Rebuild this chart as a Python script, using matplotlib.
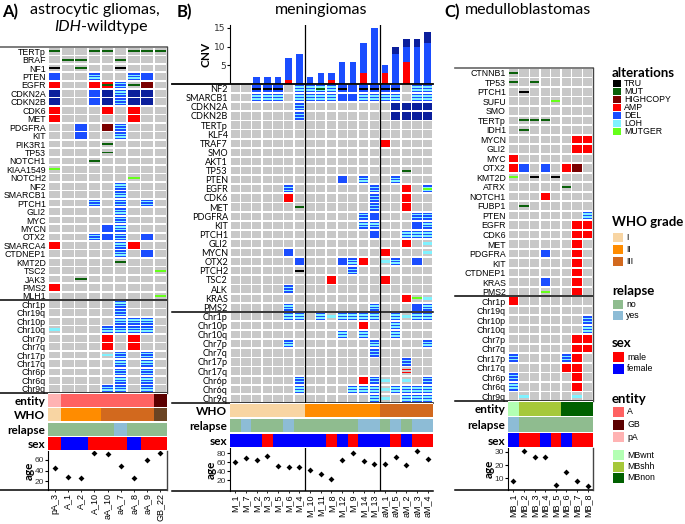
import numpy as np
import matplotlib.pyplot as plt
from matplotlib.patches import Rectangle

# ---------------- panel A: astrocytic gliomas ----------------
a_samples = ["pA_3", "A_1", "A_2", "A_10", "aA_10", "aA_7", "aA_8", "aA_9", "GB_22"]
a_genes = ["TERTp", "BRAF", "NF1", "PTEN", "EGFR", "CDKN2A", "CDKN2B", "CDK6", "MET",
           "PDGFRA", "KIT", "PIK3R1", "TP53", "NOTCH1", "KIAA1549", "NOTCH2", "NF2",
           "SMARCB1", "PTCH1", "GLI2", "MYC", "MYCN", "OTX2", "SMARCA4", "CTDNEP1",
           "KMT2D", "TSC2", "JAK3", "PMS2", "MLH1"]
a_gene_calls = [
    "M . . M M . M M M",
    ". M M . . M . . .",
    "T . M . . T . . .",
    "D . . S . . S D .",
    "A . . A AM S M H .",
    "N . . D N S N N .",
    "N . . D N S N N .",
    "A . . . A . A . .",
    "A . . . . . A . .",
    ". . D . H S . . .",
    ". . D . . S . . .",
    ". . . . M . . . .",
    ". . . . M . . . .",
    ". . . M . . . . .",
    "G . . . . . . . .",
    ". . . . . . G . .",
    ". . . . . S . . .",
    ". . . . . S . . .",
    ". . . S . S . S .",
    ". . . . . S . . .",
    ". . . . . S . . .",
    ". . . . D S . . .",
    ". . . S D S . D .",
    "A . . . . S A . .",
    ". . . . . S . D .",
    ". . . . . M . . .",
    ". . . . . . . . G",
    ". . M . . . . . .",
    "A . . . . . . . .",
    ". . . . . . . . G",
]
a_chroms = ["Chr1p", "Chr19q", "Chr10p", "Chr10q", "Chr7p", "Chr7q", "Chr17p",
            "Chr17q", "Chr6p", "Chr6q", "Chr9q"]
a_chrom_calls = [
    ". . . . . S . . .",
    ". . . . . S . . .",
    ". . . . . S S S .",
    "L . . . S S S S .",
    ". . . . A . A . .",
    ". . . . A . A . .",
    ". . . . L S . S .",
    ". . . . . S . S .",
    ". . . . . S . S .",
    ". . . . . S . S .",
    ". . . . S S . S .",
]
a_entity = ["pA", "A", "A", "A", "A", "A", "A", "A", "GB"]
a_who = ["I", "II", "II", "II", "III", "III", "III", "III", "IV"]
a_relapse = ["no", "no", "no", "no", "no", "yes", "no", "no", "no"]
a_sex = ["male", "female", "female", "male", "male", "male", "female", "male", "male"]
a_age = [44, 28, 26, 72, 70, 48, 26, 60, 72]

# ---------------- panel B: meningiomas ----------------
b_samples = ["M_1", "M_7", "M_2", "M_3", "M_5", "M_6", "M_4",
             "M_10", "M_11", "M_8", "M_12", "M_9", "M_14", "M_13",
             "aM_1", "aM_5", "aM_2", "aM_3", "aM_4"]
b_cnv_amp = [0, 0, 0, 0, 0, 1, 0, 0, 0, 1, 0, 0, 3, 0, 3, 0, 6, 0, 0]
b_cnv_del = [0, 0, 2, 2, 2, 6, 8, 2, 3, 2, 6, 6, 8, 15, 2, 8, 4, 10, 11]
b_cnv_deep = [0, 0, 0, 0, 0, 0, 0, 0, 0, 0, 0, 0, 0, 0, 0, 2, 2, 2, 3]
b_genes = ["NF2", "SMARCB1", "CDKN2A", "CDKN2B", "TERTp", "KLF4", "TRAF7", "SMO",
           "AKT1", "TP53", "PTEN", "EGFR", "CDK6", "MET", "PDGFRA", "KIT", "PTCH1",
           "GLI2", "MYCN", "OTX2", "PTCH2", "TSC2", "ALK", "KRAS", "PMS2"]
b_gene_calls = [
    ". . DT DT DT . S S SM S DT D DT DT DT DT . S S",
    ". . S S S . S S S S D D S S S S . S S",
    ". . . . . . S . . . . . . . . N N N N",
    ". . . . . . S . . . . . . . . N N N N",
    ". . . . . . . . . . . . . . . . . . .",
    ". . . . . . . . . . . . . . . . . . .",
    ". . . . . . . . . . . . . . A . . . .",
    ". . . . . . . . . . . . . . . . . . .",
    ". . . . . . . . . . . . . . . . . . .",
    ". . . . . . . . . . . . . . . . M . .",
    ". . . . . . . . . . D . S . . S . . .",
    ". . . . . S . . . . . . . S . . A . SG",
    ". . . . . A . . . . . . . S . . A . .",
    ". . . . . . M . . . . . . S . . A . .",
    ". . . . . . . . . . . . S D . . . S S",
    ". . . . . . . . . . . . S S . . . D S",
    ". . . . . . . . . . . . . D . . S S S",
    ". . . . . . . . . . . . . . . . A . L",
    ". . . . . D . . . . . . . . A . . . L",
    ". . . . . . D . . . D S A . L S . D .",
    ". . . . . . T . . . . S . . . . . . .",
    ". . . . . . . . . A . . . . A . . . .",
    ". . . . . S . . . . . . . . . . . . .",
    ". . . . . . . . . . . . . . . . A G L",
    ". . . . . S . . . . . . . S . . . D S",
]
b_chroms = ["Chr1p", "Chr10p", "Chr10q", "Chr7p", "Chr7q", "Chr17p", "Chr17q",
            "Chr6p", "Chr6q", "Chr9q"]
b_chrom_calls = [
    ". . . . . S S . S L S S S S . S L S S",
    ". . . . . . . . . . . . A . . S . . .",
    ". . . . . . . . . . S . S . . S . . .",
    ". . . . . S . . . . . . . S . . . . S",
    ". . . . . . . . . . . . . S . . . . .",
    ". . . . . . . . . . . . . . . . S . .",
    ". . . . . . . . . . . . . . . . R . .",
    ". . . . . . S . . . . . A S L . L . S",
    ". . . . . . S . . . . S S S L S S S S",
    ". . . . . . . . . . . . . S L . S S S",
]
b_who = ["I"] * 7 + ["II"] * 7 + ["III"] * 5
b_relapse = ["no", "yes", "no", "no", "no", "yes", "no",
             "no", "no", "no", "no", "no", "yes", "yes",
             "no", "yes", "no", "yes", "yes"]
b_sex = ["female", "female", "female", "male", "female", "female", "female",
         "female", "female", "male", "female", "male", "female", "female",
         "female", "male", "female", "male", "male"]
b_age = [60, 69, 64, 74, 52, 50, 50, 44, 35, 24, 64, 80, 62, 55, 55, 72, 53, 84, 68]

# ---------------- panel C: medulloblastomas ----------------
c_samples = ["MB_1", "MB_2", "MB_3", "MB_4", "MB_5", "MB_6", "MB_7", "MB_8"]
c_genes = ["CTNNB1", "TP53", "PTCH1", "SUFU", "SMO", "TERTp", "IDH1", "MYCN", "GLI2",
           "MYC", "OTX2", "KMT2D", "ATRX", "NOTCH1", "FUBP1", "PTEN", "EGFR", "CDK6",
           "MET", "PDGFRA", "KIT", "CTDNEP1", "KRAS", "PMS2"]
c_gene_calls = [
    "M . . . . . . .",
    "M . M . . . . .",
    ". T . . . . . .",
    ". . . . G . . .",
    ". . . . . . . .",
    ". M M M . . . .",
    ". M . . . . . .",
    ". . . . . . A A",
    ". . . . . . A A",
    "A . . . . . . .",
    "A D . D . A H .",
    "G . T . T . . .",
    ". . . . . M . .",
    ". . . A . . . .",
    ". M . . . . . .",
    ". . . . . . . S",
    ". . . . . . A A",
    ". . . . . . A A",
    ". . . . . . A .",
    ". . . D . . A .",
    ". . . . . . A .",
    ". . . . . . A .",
    ". . . D . . A .",
    ". . . G . . A .",
]
c_chroms = ["Chr1p", "Chr19q", "Chr10p", "Chr10q", "Chr7p", "Chr7q", "Chr17p",
            "Chr17q", "Chr6p", "Chr6q", "Chr9q"]
c_chrom_calls = [
    "A . . . . . . .",
    ". . . . . . . .",
    ". . . . . . . S",
    ". . . . . . . S",
    ". . . . . . A A",
    ". . . . . . A A",
    "S . . . . S A .",
    ". . . . . A A .",
    "S . . . . . A .",
    "S . . . . . A .",
    ". L . . . . L .",
]
c_entity = ["MBwnt", "MBshh", "MBshh", "MBshh", "MBshh", "MBnon", "MBnon", "MBnon"]
c_relapse = ["yes", "no", "no", "no", "no", "no", "no", "no"]
c_sex = ["female", "male", "male", "female", "male", "female", "male", "male"]
c_age = [8, 31, 26, 26, 5, 15, 8, 4]

# ---------------- legend content ----------------
alt_names = ["TRU", "MUT", "HIGHCOPY", "AMP", "DEL", "LOH", "MUTGER"]
alt_codes = ["T", "M", "H", "A", "D", "L", "G"]
who_names = ["I", "II", "III"]
relapse_names = ["no", "yes"]
sex_names = ["male", "female"]
entity_names = ["A", "GB", "pA", "MBwnt", "MBshh", "MBnon"]

# ---------------- styling ----------------
GREY = "#c8c8c8"
cell_col = {"A": "#ff0000", "D": "#1a4dff", "N": "#0b1f9c", "H": "#7b0000",
            "M": "#0a600a", "T": "#000000", "G": "#66ff1a", "L": "#80f2ff"}
ann_col = {"A": "#ff6262", "GB": "#5c0000", "pA": "#ffb3b3",
           "MBwnt": "#b3ffb3", "MBshh": "#a6c83a", "MBnon": "#006000",
           "I": "#f8d5a3", "II": "#ff8c00", "III": "#d2691e", "IV": "#6b4423",
           "no": "#8fbc8f", "yes": "#8dbcd6",
           "male": "#ff0000", "female": "#0000ff"}
ARIAL = "Liberation Sans"
CALI = "Lato"

W, H = 685, 524
fig = plt.figure(figsize=(W / 100, H / 100), dpi=100)


def box(l, t, r, b):
    return [l / W, 1 - b / H, (r - l) / W, (b - t) / H]


def xfrac(rect, px):
    return (px - rect[0]) / (rect[2] - rect[0])


def draw_cell(ax, x, y, token):
    w, h = 0.86, 0.8
    x0, y0 = x + (1 - w) / 2, y + (1 - h) / 2
    ax.add_patch(Rectangle((x0, y0), w, h, fc=GREY, lw=0))
    for c in token:
        if c in "ADNH":
            ax.add_patch(Rectangle((x0, y0), w, h, fc=cell_col[c], lw=0))
        elif c in "SR":
            band = h / 5
            for k in range(5):
                if c == "S":
                    fc = cell_col["D"] if k % 2 == 0 else cell_col["L"]
                else:
                    fc = cell_col["A"] if k % 2 == 1 else GREY
                ax.add_patch(Rectangle((x0, y0 + k * band), w, band, fc=fc, lw=0))
        elif c == "L":
            ax.add_patch(Rectangle((x0, y0 + h * 0.3), w, h * 0.4, fc=cell_col["L"], lw=0))
        elif c in "MTG":
            ax.add_patch(Rectangle((x0, y0 + h * 0.36), w, h * 0.28, fc=cell_col[c], lw=0))


def heatmap(rect, samples, genes, gene_calls, chroms, chrom_calls, left_px, font, fs):
    ax = fig.add_axes(box(*rect))
    rows = genes + chroms
    calls = gene_calls + chrom_calls
    for i, row in enumerate(calls):
        for j, tok in enumerate(row.split()):
            draw_cell(ax, j, i, tok.replace(".", ""))
    ax.set_xlim(0, len(samples))
    ax.set_ylim(len(rows), 0)
    ax.set_yticks(np.arange(len(rows)) + 0.5, rows, fontsize=fs, family=font)
    ax.set_xticks([])
    ax.tick_params(length=0, pad=1.5)
    for s in ax.spines.values():
        s.set_visible(False)
    xm = xfrac(rect, left_px)
    ax.axhline(len(genes), xmin=xm, xmax=1, color="k", lw=1.1, clip_on=False)
    ax.axhline(len(rows), xmin=xm, xmax=1, color="k", lw=1.1, clip_on=False)
    return ax


def annot(rect, tracks, labels):
    ax = fig.add_axes(box(*rect))
    n = len(tracks[0])
    for i, vals in enumerate(tracks):
        ax.barh(i + 0.5, 1, left=np.arange(n), height=0.92,
                color=[ann_col[v] for v in vals], lw=0)
    ax.set_xlim(0, n)
    ax.set_ylim(len(tracks), 0)
    ax.set_yticks(np.arange(len(tracks)) + 0.5, labels, fontsize=8.5,
                  fontweight="bold", family=CALI)
    ax.set_xticks([])
    ax.tick_params(length=0, pad=2)
    for s in ax.spines.values():
        s.set_visible(False)
    return ax


def age_axes(rect, samples, ages, ylim, yticks, left_px):
    ax = fig.add_axes(box(*rect))
    n = len(samples)
    ax.scatter(np.arange(n) + 0.5, ages, marker="D", s=9, c="k", lw=0)
    ax.set_xlim(0, n)
    ax.set_ylim(*ylim)
    ax.set_yticks(yticks)
    ax.set_xticks(np.arange(n) + 0.5, samples, rotation=90, fontsize=6.5, family=ARIAL)
    ax.tick_params(axis="y", labelsize=6, length=2, pad=1, labelcolor="#333333")
    ax.tick_params(axis="x", length=1.5, pad=1, width=0.6)
    for lab in ax.get_yticklabels():
        lab.set_family(ARIAL)
    ax.spines["top"].set_visible(False)
    ax.spines["right"].set_visible(False)
    ax.spines["bottom"].set_visible(False)
    ax.spines["left"].set_linewidth(0.8)
    ax.axhline(ylim[0], xmin=xfrac(rect, left_px), xmax=1, color="k", lw=1.1, clip_on=False)
    ax.set_ylabel("age", fontsize=8.5, fontweight="bold", family=CALI, labelpad=0)
    return ax


# ---------------- panel A ----------------
ra_heat = (48, 47, 167, 393)
ra_ann = (48, 393, 167, 451)
ra_age = (48, 451, 167, 490)
axA = heatmap(ra_heat, a_samples, a_genes, a_gene_calls, a_chroms, a_chrom_calls,
              0, ARIAL, 6.3)
axA.axhline(0, xmin=xfrac(ra_heat, 0), xmax=1, color="#666666", lw=1.2, clip_on=False)
annot(ra_ann, [a_entity, a_who, a_relapse, a_sex], ["entity", "WHO", "relapse", "sex"])
axA_age = age_axes(ra_age, a_samples, a_age, (4, 76), [20, 40, 60], 0)

# ---------------- panel B ----------------
rb_cnv = (230, 25, 433, 84)
rb_heat = (230, 84, 433, 403)
rb_ann = (230, 403, 433, 448)
rb_age = (230, 448, 433, 491)
ax_cnv = fig.add_axes(box(*rb_cnv))
xb = np.arange(len(b_samples)) + 0.5
amp = np.array(b_cnv_amp)
dele = np.array(b_cnv_del)
deep = np.array(b_cnv_deep)
ax_cnv.bar(xb, amp, width=0.62, color=cell_col["A"], lw=0)
ax_cnv.bar(xb, dele, width=0.62, bottom=amp, color=cell_col["D"], lw=0)
ax_cnv.bar(xb, deep, width=0.62, bottom=amp + dele, color=cell_col["N"], lw=0)
ax_cnv.set_xlim(0, len(b_samples))
ax_cnv.set_ylim(0, 15.8)
ax_cnv.set_yticks([5, 10, 15])
ax_cnv.set_xticks([])
ax_cnv.tick_params(axis="y", labelsize=6.5, length=2, pad=1, labelcolor="#333333")
for s in ["top", "right", "bottom"]:
    ax_cnv.spines[s].set_visible(False)
ax_cnv.spines["left"].set_linewidth(0.8)
ax_cnv.set_ylabel("CNV", fontsize=8.5, fontweight="bold", family=CALI, labelpad=2)
for v in (7, 14):
    ax_cnv.axvline(v, color="k", lw=0.9)

axB = heatmap(rb_heat, b_samples, b_genes, b_gene_calls, b_chroms, b_chrom_calls,
              172, CALI, 6.6)
axB.axhline(0, xmin=xfrac(rb_heat, 172), xmax=1, color="k", lw=1.3, clip_on=False)
for v in (7, 14):
    axB.axvline(v, color="k", lw=0.9)
annot(rb_ann, [b_who, b_relapse, b_sex], ["WHO", "relapse", "sex"])
axB_age = age_axes(rb_age, b_samples, b_age, (-3, 91), [20, 40, 60, 80], 172)
for v in (7, 14):
    axB_age.axvline(v, color="k", lw=0.9)

# ---------------- panel C ----------------
rc_heat = (508, 68, 593, 401)
rc_ann = (508, 401, 593, 448)
rc_age = (508, 448, 593, 490)
axC = heatmap(rc_heat, c_samples, c_genes, c_gene_calls, c_chroms, c_chrom_calls,
              455, ARIAL, 6.3)
axC.axhline(0, xmin=xfrac(rc_heat, 455), xmax=1, color="#666666", lw=1.2, clip_on=False)
annot(rc_ann, [c_entity, c_relapse, c_sex], ["entity", "relapse", "sex"])
axC_age = age_axes(rc_age, c_samples, c_age, (1, 33), [10, 20, 30], 455)

# right borders of A and C
for ax in (axA, axA_age, axC, axC_age):
    ax.spines["right"].set_visible(True)
    ax.spines["right"].set_color("#444444")
    ax.spines["right"].set_linewidth(1)

# ---------------- titles ----------------
fig.text(2 / W, 1 - 12 / H, "A)", fontsize=12, fontweight="bold", family=CALI, va="center")
fig.text(95 / W, 1 - 10 / H, "astrocytic gliomas,", fontsize=11.5, family=CALI,
         ha="center", va="center")
fig.text(81 / W, 1 - 27 / H, "IDH", fontsize=11.5, family=CALI, style="italic",
         ha="right", va="center")
fig.text(81 / W, 1 - 27 / H, "-wildtype", fontsize=11.5, family=CALI, ha="left", va="center")
fig.text(177 / W, 1 - 12 / H, "B)", fontsize=12, fontweight="bold", family=CALI, va="center")
fig.text(321 / W, 1 - 10 / H, "meningiomas", fontsize=11.5, family=CALI,
         ha="center", va="center")
fig.text(444 / W, 1 - 12 / H, "C)", fontsize=12, fontweight="bold", family=CALI, va="center")
fig.text(465 / W, 1 - 10 / H, "medulloblastomas", fontsize=11.5, family=CALI,
         ha="left", va="center")

# ---------------- legends ----------------
axL = fig.add_axes(box(600, 55, 685, 495))
axL.set_xlim(600, 685)
axL.set_ylim(495, 55)
axL.axis("off")


def legend_block(title, ty, names, colors, y0, dy, sw, sh):
    axL.text(612, ty, title, fontsize=9.5, fontweight="bold", family=CALI, va="center")
    for k, (nm, c) in enumerate(zip(names, colors)):
        y = y0 + k * dy
        axL.add_patch(Rectangle((613, y - sh / 2), sw, sh, fc=c, lw=0))
        axL.text(613 + sw + 3, y, nm, fontsize=6.3, family=ARIAL, va="center")


legend_block("alterations", 73, alt_names, [cell_col[c] for c in alt_codes], 83, 8, 8, 7)
legend_block("WHO grade", 222, who_names, [ann_col[n] for n in who_names], 237, 12, 10, 9)
legend_block("relapse", 291, relapse_names, [ann_col[n] for n in relapse_names], 304, 11, 10, 9)
legend_block("sex", 343, sex_names, [ann_col[n] for n in sex_names], 357, 11.5, 11, 10)
legend_block("entity", 399, entity_names[:3], [ann_col[n] for n in entity_names[:3]],
             412, 12.5, 11, 10)
legend_block("", 399, entity_names[3:], [ann_col[n] for n in entity_names[3:]],
             455, 11.5, 11, 10)

fig.savefig("out.png", dpi=100)
